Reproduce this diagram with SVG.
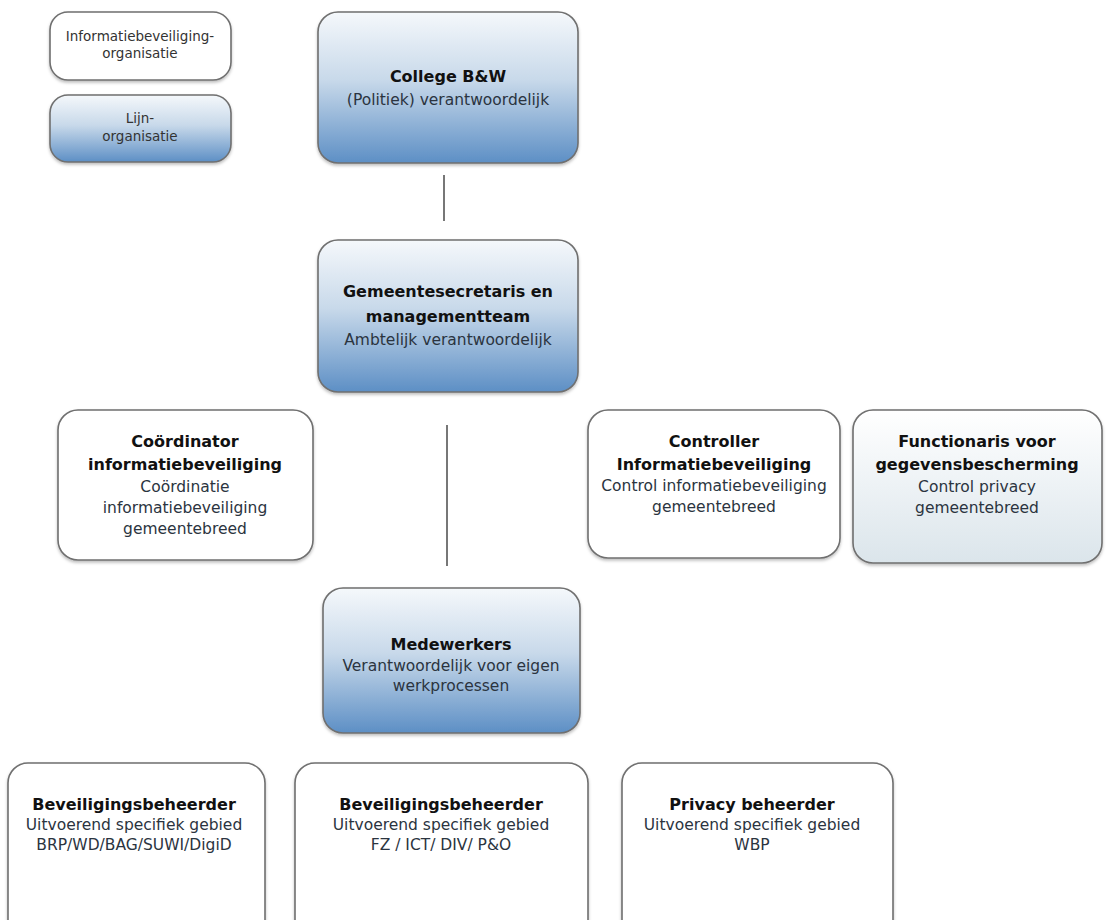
<svg xmlns="http://www.w3.org/2000/svg" width="1109" height="920" viewBox="0 0 1109 920">
<defs>
<linearGradient id="blue" x1="0" y1="0" x2="0" y2="1">
<stop offset="0" stop-color="#f5f8fb"/>
<stop offset="0.45" stop-color="#c8d9ea"/>
<stop offset="1" stop-color="#5d8fc5"/>
</linearGradient>
<linearGradient id="pale" x1="0" y1="0" x2="0" y2="1">
<stop offset="0" stop-color="#ffffff"/>
<stop offset="1" stop-color="#dbe5eb"/>
</linearGradient>
<filter id="sh" x="-5%" y="-5%" width="110%" height="115%">
<feDropShadow dx="0" dy="2" stdDeviation="1.5" flood-color="#000" flood-opacity="0.25"/>
</filter>
</defs>
<style>
.box{stroke:#6f6f6f;stroke-width:1.6;filter:url(#sh)}
.w{fill:#ffffff}
.b{fill:url(#blue)}
.p{fill:url(#pale)}
text{font-family:"DejaVu Sans","Liberation Sans",sans-serif;text-anchor:middle}
.t{font-size:16px;font-weight:bold;fill:#111}
.s{font-size:15.5px;fill:#2b3440}
.l{font-size:13.5px;fill:#333}
.conn line{stroke:#555;stroke-width:1.6}
</style>
<rect width="1109" height="920" fill="#ffffff"/>
<g id="connectors" class="conn">
<line x1="444" y1="175" x2="444" y2="221"/>
<line x1="447" y1="425" x2="447" y2="566"/>
</g>
<g id="legend-info">
<rect class="box w" x="50" y="12" width="181" height="68" rx="18"/>
<text class="l" x="140" y="41">Informatiebeveiliging-</text>
<text class="l" x="140" y="58">organisatie</text>
</g>
<g id="legend-lijn">
<rect class="box b" x="50" y="95" width="181" height="67" rx="18"/>
<text class="l" x="140" y="123">Lijn-</text>
<text class="l" x="140" y="141">organisatie</text>
</g>
<g id="college">
<rect class="box b" x="318" y="12" width="260" height="151" rx="20"/>
<text class="t" x="448" y="82">College B&amp;W</text>
<text class="s" x="448" y="105">(Politiek) verantwoordelijk</text>
</g>
<g id="gemeentesecretaris">
<rect class="box b" x="318" y="240" width="260" height="152" rx="20"/>
<text class="t" x="448" y="297">Gemeentesecretaris en</text>
<text class="t" x="448" y="322">managementteam</text>
<text class="s" x="448" y="345">Ambtelijk verantwoordelijk</text>
</g>
<g id="coordinator">
<rect class="box w" x="58" y="410" width="255" height="150" rx="20"/>
<text class="t" x="185" y="447">Coördinator</text>
<text class="t" x="185" y="470">informatiebeveiliging</text>
<text class="s" x="185" y="492">Coördinatie</text>
<text class="s" x="185" y="513">informatiebeveiliging</text>
<text class="s" x="185" y="534">gemeentebreed</text>
</g>
<g id="controller">
<rect class="box w" x="588" y="410" width="252" height="148" rx="20"/>
<text class="t" x="714" y="447">Controller</text>
<text class="t" x="714" y="470">Informatiebeveiliging</text>
<text class="s" x="714" y="491">Control informatiebeveiliging</text>
<text class="s" x="714" y="512">gemeentebreed</text>
</g>
<g id="functionaris">
<rect class="box p" x="853" y="410" width="249" height="153" rx="20"/>
<text class="t" x="977" y="447">Functionaris voor</text>
<text class="t" x="977" y="470">gegevensbescherming</text>
<text class="s" x="977" y="492">Control privacy</text>
<text class="s" x="977" y="513">gemeentebreed</text>
</g>
<g id="medewerkers">
<rect class="box b" x="323" y="588" width="257" height="145" rx="20"/>
<text class="t" x="451" y="650">Medewerkers</text>
<text class="s" x="451" y="671">Verantwoordelijk voor eigen</text>
<text class="s" x="451" y="691">werkprocessen</text>
</g>
<g id="beheerder-brp">
<rect class="box w" x="8" y="763" width="257" height="180" rx="20"/>
<text class="t" x="134" y="810">Beveiligingsbeheerder</text>
<text class="s" x="134" y="830">Uitvoerend specifiek gebied</text>
<text class="s" x="134" y="850">BRP/WD/BAG/SUWI/DigiD</text>
</g>
<g id="beheerder-fz">
<rect class="box w" x="295" y="763" width="293" height="180" rx="20"/>
<text class="t" x="441" y="810">Beveiligingsbeheerder</text>
<text class="s" x="441" y="830">Uitvoerend specifiek gebied</text>
<text class="s" x="441" y="850">FZ / ICT/ DIV/ P&amp;O</text>
</g>
<g id="privacy-beheerder">
<rect class="box w" x="622" y="763" width="271" height="180" rx="20"/>
<text class="t" x="752" y="810">Privacy beheerder</text>
<text class="s" x="752" y="830">Uitvoerend specifiek gebied</text>
<text class="s" x="752" y="850">WBP</text>
</g>
</svg>
